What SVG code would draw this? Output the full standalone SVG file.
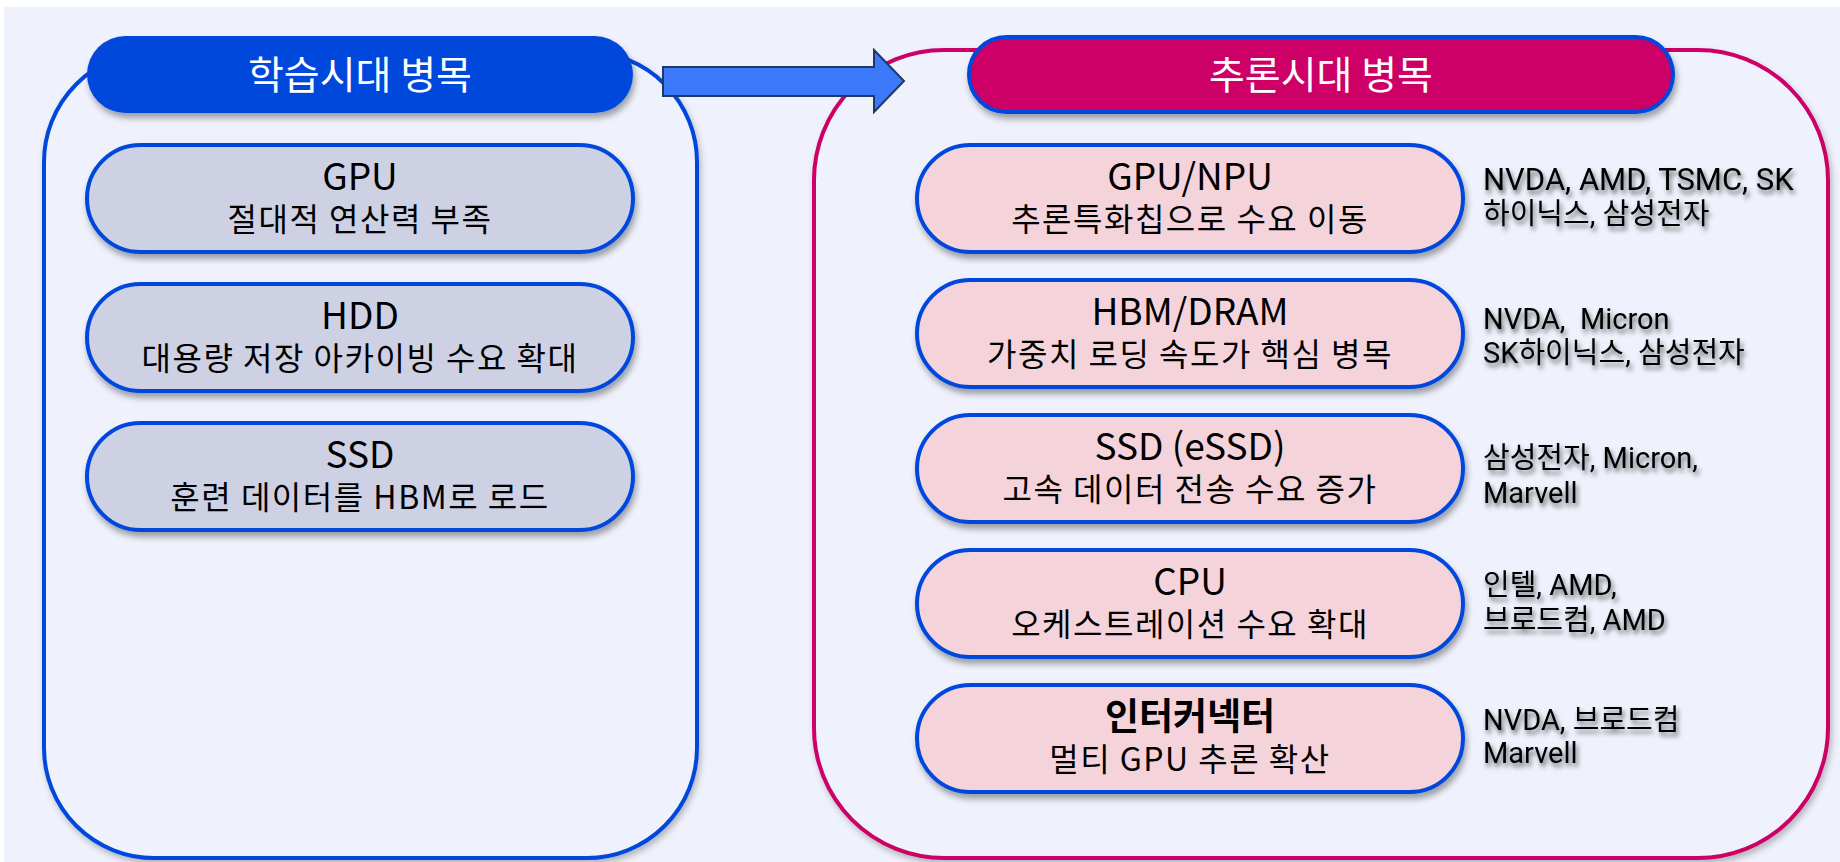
<svg xmlns="http://www.w3.org/2000/svg" width="1840" height="862" viewBox="0 0 1840 862">
<defs>
<style>
.bg{fill:#EFF2FC}
.panelL{fill:#EFF2FC;stroke:#0047DC;stroke-width:4}
.panelR{fill:#EFF2FC;stroke:#CC0066;stroke-width:4}
.pillL{fill:#CDD1E3;stroke:#0047DC;stroke-width:4}
.pillR{fill:#F5D3DB;stroke:#0047DC;stroke-width:4}
.head{font-family:"Noto Sans CJK KR","Liberation Sans",sans-serif;font-size:39px;fill:#FFFFFF;text-anchor:middle}
.pt{font-family:"Noto Sans CJK KR","Liberation Sans",sans-serif;fill:#000;text-anchor:middle}
.t1{font-size:37px}
.t2{font-size:32px;letter-spacing:1.5px}
.co{font-family:Roboto,"Noto Sans CJK KR",sans-serif;font-size:29px;fill:#000;white-space:pre}
</style>
<filter id="sh" x="-10%" y="-20%" width="125%" height="160%">
<feDropShadow dx="2" dy="5" stdDeviation="3" flood-color="#000" flood-opacity="0.35"/>
</filter>
<filter id="shp" x="-5%" y="-5%" width="112%" height="112%">
<feDropShadow dx="2" dy="4" stdDeviation="3" flood-color="#000" flood-opacity="0.25"/>
</filter>
<filter id="tsh" x="-10%" y="-30%" width="125%" height="180%">
<feDropShadow dx="2" dy="4" stdDeviation="2.5" flood-color="#000" flood-opacity="0.6"/>
</filter>
</defs>
<rect class="bg" x="4" y="7" width="1836" height="855"/>

<g id="panel-training">
<rect class="panelL" x="44" y="52" width="653" height="806" rx="110" ry="110" filter="url(#shp)"/>
</g>
<g id="panel-inference">
<rect class="panelR" x="814" y="50" width="1014" height="808" rx="130" ry="130" filter="url(#shp)"/>
</g>

<g id="title-training">
<rect x="87" y="36" width="546" height="77" rx="38.5" fill="#0047DC" filter="url(#sh)"/>
<text class="head" x="360" y="89">학습시대 병목</text>
</g>
<g id="title-inference">
<rect x="969" y="37" width="704" height="75" rx="37.5" fill="#CC0066" stroke="#0047DC" stroke-width="4" filter="url(#sh)"/>
<text class="head" x="1321" y="89">추론시대 병목</text>
</g>

<g id="connectors">
<path d="M663,67 L874,67 L874,50 L904,81 L874,112 L874,96 L663,96 Z" fill="#3B78FA" stroke="#1F3864" stroke-width="2"/>
</g>

<g id="l-gpu">
<rect class="pillL" x="87" y="145" width="546" height="107" rx="53.5" filter="url(#sh)"/>
<text class="pt" x="360" y="190"><tspan class="t1" x="360">GPU</tspan><tspan class="t2" x="360" dy="41">절대적 연산력 부족</tspan></text>
</g>
<g id="l-hdd">
<rect class="pillL" x="87" y="284" width="546" height="107" rx="53.5" filter="url(#sh)"/>
<text class="pt" x="360" y="329"><tspan class="t1" x="360">HDD</tspan><tspan class="t2" x="360" dy="41">대용량 저장 아카이빙 수요 확대</tspan></text>
</g>
<g id="l-ssd">
<rect class="pillL" x="87" y="423" width="546" height="107" rx="53.5" filter="url(#sh)"/>
<text class="pt" x="360" y="468"><tspan class="t1" x="360">SSD</tspan><tspan class="t2" x="360" dy="41">훈련 데이터를 HBM로 로드</tspan></text>
</g>

<g id="r-gpu">
<rect class="pillR" x="917" y="145" width="546" height="107" rx="53.5" filter="url(#sh)"/>
<text class="pt" x="1190" y="190"><tspan class="t1" x="1190">GPU/NPU</tspan><tspan class="t2" x="1190" dy="41">추론특화칩으로 수요 이동</tspan></text>
</g>
<g id="r-hbm">
<rect class="pillR" x="917" y="280" width="546" height="107" rx="53.5" filter="url(#sh)"/>
<text class="pt" x="1190" y="325"><tspan class="t1" x="1190">HBM/DRAM</tspan><tspan class="t2" x="1190" dy="41">가중치 로딩 속도가 핵심 병목</tspan></text>
</g>
<g id="r-ssd">
<rect class="pillR" x="917" y="415" width="546" height="107" rx="53.5" filter="url(#sh)"/>
<text class="pt" x="1190" y="460"><tspan class="t1" x="1190">SSD (eSSD)</tspan><tspan class="t2" x="1190" dy="41">고속 데이터 전송 수요 증가</tspan></text>
</g>
<g id="r-cpu">
<rect class="pillR" x="917" y="550" width="546" height="107" rx="53.5" filter="url(#sh)"/>
<text class="pt" x="1190" y="595"><tspan class="t1" x="1190">CPU</tspan><tspan class="t2" x="1190" dy="41">오케스트레이션 수요 확대</tspan></text>
</g>
<g id="r-ic">
<rect class="pillR" x="917" y="685" width="546" height="107" rx="53.5" filter="url(#sh)"/>
<text class="pt" x="1190" y="730"><tspan class="t1" x="1190" font-weight="bold">인터커넥터</tspan><tspan class="t2" x="1190" dy="41">멀티 GPU 추론 확산</tspan></text>
</g>

<g id="companies" filter="url(#tsh)">
<text class="co" x="1483" y="190"><tspan x="1483" font-size="31">NVDA, AMD, TSMC, SK</tspan><tspan x="1483" dy="34">하이닉스, 삼성전자</tspan></text>
<text class="co" x="1483" y="329"><tspan x="1483">NVDA,  Micron</tspan><tspan x="1483" dy="34">SK하이닉스, 삼성전자</tspan></text>
<text class="co" x="1483" y="468"><tspan x="1483">삼성전자, Micron,</tspan><tspan x="1483" dy="35">Marvell</tspan></text>
<text class="co" x="1483" y="595"><tspan x="1483">인텔, AMD,</tspan><tspan x="1483" dy="35">브로드컴, AMD</tspan></text>
<text class="co" x="1483" y="730"><tspan x="1483">NVDA, 브로드컴</tspan><tspan x="1483" dy="33">Marvell</tspan></text>
</g>
</svg>
